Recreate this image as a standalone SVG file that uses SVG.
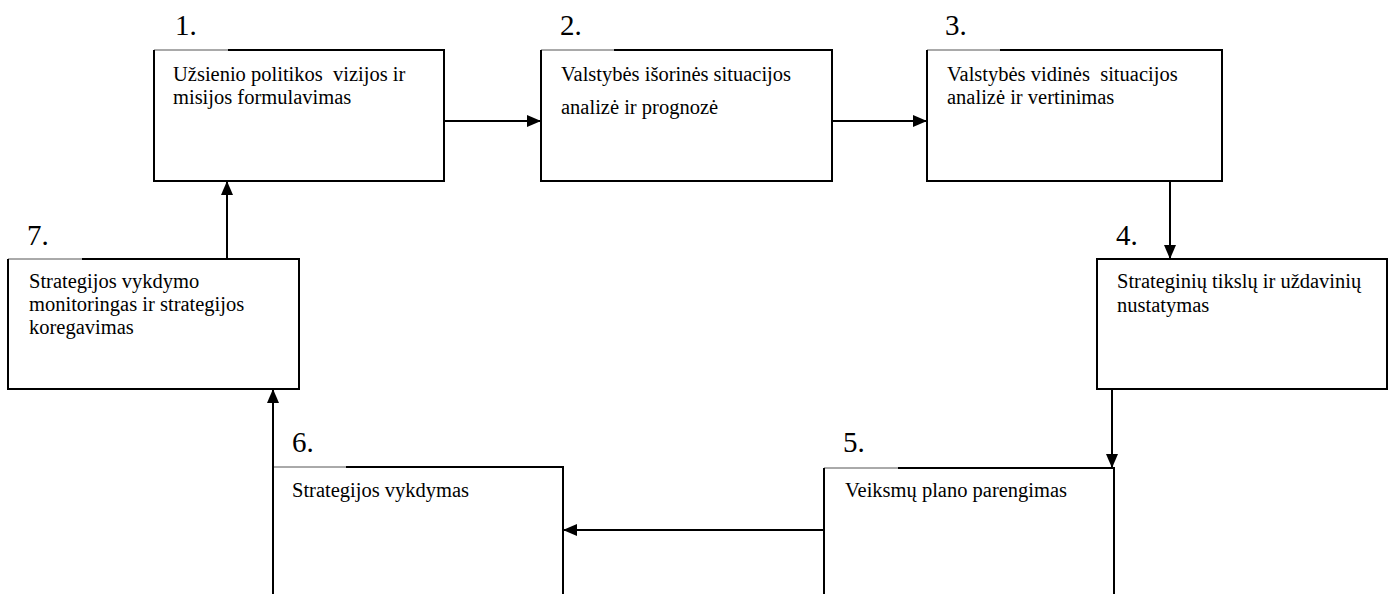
<svg xmlns="http://www.w3.org/2000/svg" width="1392" height="594" viewBox="0 0 1392 594">
  <style>
    .frame { fill: none; stroke: #000; stroke-width: 2; }
    .thin { fill: none; stroke: #555; stroke-width: 1; }
    .txt { font-family: "Liberation Serif", "Times New Roman", serif; font-size: 20.5px; fill: #000; white-space: pre; }
    .num { font-family: "Liberation Serif", "Times New Roman", serif; font-size: 29px; fill: #000; }
    .link { fill: none; stroke: #000; stroke-width: 2; }
  </style>
  <defs>
    <marker id="arrow" viewBox="0 0 14 12" refX="14" refY="6" markerWidth="14" markerHeight="12" markerUnits="userSpaceOnUse" orient="auto">
      <path d="M0,0 L14,6 L0,12 Z" fill="#000"/>
    </marker>
  </defs>
  <rect width="1392" height="594" fill="#fff"/>

  <!-- step 1 -->
  <g id="node1">
    <text class="num" x="175" y="35">1.</text>
    <line class="thin" x1="154" y1="50" x2="228" y2="50"/>
    <path class="frame" d="M228,50 H444 V181 H154 V50"/>
    <text class="txt" x="173" y="81" xml:space="preserve">Užsienio politikos  vizijos ir</text>
    <text class="txt" x="173" y="104">misijos formulavimas</text>
  </g>

  <!-- step 2 -->
  <g id="node2">
    <text class="num" x="560" y="35">2.</text>
    <line class="thin" x1="541" y1="50" x2="614" y2="50"/>
    <path class="frame" d="M614,50 H832 V181 H541 V50"/>
    <text class="txt" x="561" y="81">Valstybės išorinės situacijos</text>
    <text class="txt" x="561" y="114">analizė ir prognozė</text>
  </g>

  <!-- step 3 -->
  <g id="node3">
    <text class="num" x="945" y="35">3.</text>
    <line class="thin" x1="927" y1="50" x2="1000" y2="50"/>
    <path class="frame" d="M1000,50 H1222 V181 H927 V50"/>
    <text class="txt" x="947" y="81" xml:space="preserve">Valstybės vidinės  situacijos</text>
    <text class="txt" x="947" y="104">analizė ir vertinimas</text>
  </g>

  <!-- step 4 -->
  <g id="node4">
    <text class="num" x="1116" y="245">4.</text>
    <rect class="frame" x="1097" y="259" width="290" height="130"/>
    <text class="txt" x="1117" y="288">Strateginių tikslų ir uždavinių</text>
    <text class="txt" x="1117" y="312">nustatymas</text>
  </g>

  <!-- step 5 (lower edge runs off the page) -->
  <g id="node5">
    <text class="num" x="843" y="452">5.</text>
    <line class="thin" x1="824" y1="468" x2="898" y2="468"/>
    <path class="frame" d="M824,600 V468 M898,468 H1114 V600"/>
    <text class="txt" x="845" y="497">Veiksmų plano parengimas</text>
  </g>

  <!-- step 6 (lower edge runs off the page) -->
  <g id="node6">
    <text class="num" x="292" y="452">6.</text>
    <line class="thin" x1="273" y1="467" x2="346" y2="467"/>
    <path class="frame" d="M273,600 V467 M346,467 H563 V600"/>
    <text class="txt" x="292" y="497">Strategijos vykdymas</text>
  </g>

  <!-- step 7 -->
  <g id="node7">
    <text class="num" x="27" y="245">7.</text>
    <line class="thin" x1="8" y1="259" x2="82" y2="259"/>
    <path class="frame" d="M82,259 H299 V389 H8 V259"/>
    <text class="txt" x="29" y="288">Strategijos vykdymo</text>
    <text class="txt" x="29" y="311">monitoringas ir strategijos</text>
    <text class="txt" x="29" y="334">koregavimas</text>
  </g>

  <!-- flow between the steps -->
  <g id="connectors">
    <line class="link" x1="444" y1="121" x2="541" y2="121" marker-end="url(#arrow)"/>
    <line class="link" x1="832" y1="121" x2="927" y2="121" marker-end="url(#arrow)"/>
    <line class="link" x1="1170" y1="181" x2="1170" y2="259" marker-end="url(#arrow)"/>
    <line class="link" x1="1112" y1="389" x2="1112" y2="468" marker-end="url(#arrow)"/>
    <line class="link" x1="824" y1="530" x2="563" y2="530" marker-end="url(#arrow)"/>
    <line class="link" x1="273" y1="467" x2="273" y2="389" marker-end="url(#arrow)"/>
    <line class="link" x1="227" y1="259" x2="227" y2="181" marker-end="url(#arrow)"/>
  </g>
</svg>
